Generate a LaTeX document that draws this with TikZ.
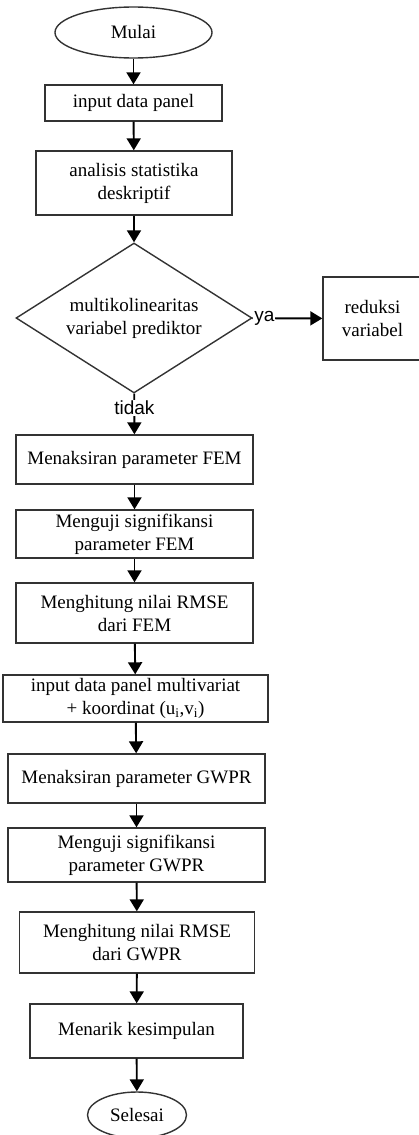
\documentclass[tikz,border=0pt]{standalone}
\usepackage{fontspec}
\setmainfont{Liberation Serif}
\newfontfamily\labelfont{Liberation Sans}
\usetikzlibrary{shapes.geometric,arrows.meta}
\tikzset{
    kotak/.style={draw=black!80, line width=1.4pt, rectangle, align=center, inner sep=0pt,
        font=\fontsize{19}{23}\selectfont},
    terminal/.style={draw=black!80, line width=1.4pt, ellipse, inner sep=0pt,
        font=\fontsize{19}{23}\selectfont},
    keputusan/.style={draw=black!80, line width=1.4pt, diamond, aspect=1.57, align=center,
        inner sep=0pt, font=\fontsize{19}{23}\selectfont},
    panah/.style={line width=1.9pt, -{Triangle[width=14pt,length=12pt]}},
    jawab/.style={font=\labelfont\fontsize{19}{21}\selectfont, fill=white, inner sep=1pt}
}
\begin{document}
\begin{tikzpicture}[x=1pt, y=-1pt]
    \useasboundingbox (0, 0) rectangle (419, 1135);
    \node[terminal, minimum width=157pt, minimum height=51pt] (mulai) at (133.5, 32.5) {Mulai};
    \node[kotak, minimum width=177pt, minimum height=36pt] (input) at (133.5, 103) {input data panel};
    \node[kotak, minimum width=196pt, minimum height=64pt] (analisis) at (134, 183) {analisis statistika\\deskriptif};
    \node[keputusan, minimum width=236pt, minimum height=150pt] (multiko) at (134, 318) {multikolinearitas\\variabel prediktor};
    \node[kotak, minimum width=99pt, minimum height=83pt] (reduksi) at (372.5, 318.5) {reduksi\\variabel};
    \node[kotak, minimum width=237pt, minimum height=49pt] (femtaksir) at (134.5, 459.5) {Menaksiran parameter FEM};
    \node[kotak, minimum width=237pt, minimum height=48pt] (femuji) at (134.5, 534) {Menguji signifikansi\\parameter FEM};
    \node[kotak, minimum width=237pt, minimum height=60pt] (femrmse) at (134.5, 613) {Menghitung nilai RMSE\\dari FEM};
    \node[kotak, minimum width=265pt, minimum height=47pt] (multivar) at (135.5, 698.5) {input data panel multivariat\\+ koordinat (u\textsubscript{i},v\textsubscript{i})};
    \node[kotak, minimum width=257pt, minimum height=49pt] (gwprtaksir) at (136.5, 778.5) {Menaksiran parameter GWPR};
    \node[kotak, minimum width=257pt, minimum height=54pt] (gwpruji) at (136.5, 855) {Menguji signifikansi\\parameter GWPR};
    \node[kotak, minimum width=235pt, minimum height=61pt] (gwprrmse) at (137, 942.5) {Menghitung nilai RMSE\\dari GWPR};
    \node[kotak, minimum width=213pt, minimum height=54pt] (simpulan) at (136.5, 1031) {Menarik kesimpulan};
    \node[terminal, minimum width=99pt, minimum height=46pt] (selesai) at (137, 1115) {Selesai};

    \draw[panah] (mulai) -- (input);
    \draw[panah] (input) -- (analisis);
    \draw[panah] (analisis) -- (multiko);
    \draw[panah] (multiko) -- node[jawab, pos=0, anchor=west] {ya} (reduksi);
    \draw[panah] (multiko) -- node[jawab, pos=0.35] {tidak} (femtaksir);
    \draw[panah] (femtaksir) -- (femuji);
    \draw[panah] (femuji) -- (femrmse);
    \draw[panah] (femrmse) -- (multivar);
    \draw[panah] (multivar) -- (gwprtaksir);
    \draw[panah] (gwprtaksir) -- (gwpruji);
    \draw[panah] (gwpruji) -- (gwprrmse);
    \draw[panah] (gwprrmse) -- (simpulan);
    \draw[panah] (simpulan) -- (selesai);
\end{tikzpicture}
\end{document}
